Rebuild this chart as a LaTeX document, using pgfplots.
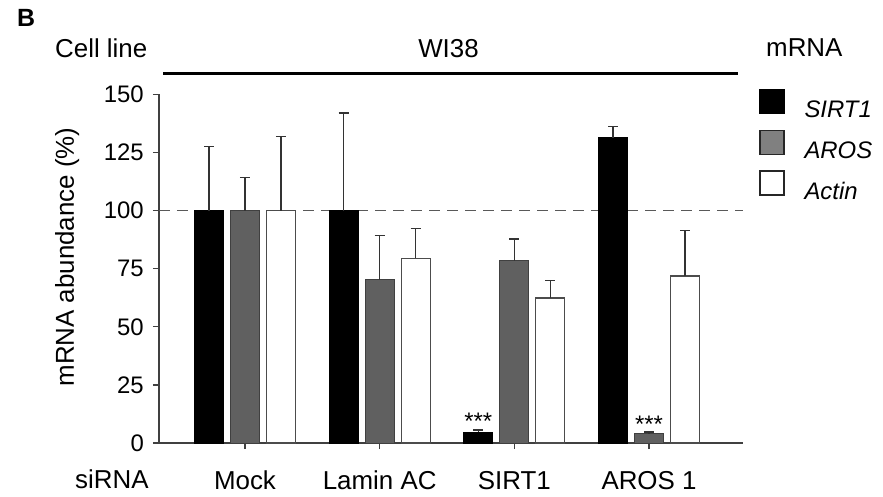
\documentclass[border=0pt]{standalone}
\usepackage{fontspec}
\setmainfont{Liberation Sans}
\usepackage{pgfplots}
\pgfplotsset{compat=1.18}
\definecolor{barg}{HTML}{606060}
\definecolor{legg}{HTML}{808080}
\definecolor{edge}{HTML}{404040}
\newcommand\fa{\fontsize{26}{30}\selectfont}
\newcommand\fb{\fontsize{24}{28}\selectfont}
\newcommand\fB{\fontsize{25}{29}\selectfont\bfseries}

\begin{document}
\begin{tikzpicture}
\path[use as bounding box] (-159bp,-54bp) rectangle (724bp,443bp);
\begin{axis}[
    scale only axis,
    width=584bp, height=348.5bp,
    xmin=-0.6386, xmax=3.698,
    ymin=0, ymax=150,
    clip=false,
    axis x line*=bottom, axis y line*=left,
    axis line style={draw=edge, line width=1.3bp, -},
    xtick={0,1,2,3},
    xticklabels={Mock, Lamin AC, SIRT1, AROS 1},
    ytick={0,25,...,150},
    tick align=outside,
    major tick length=6bp,
    tick style={draw=edge, line width=1.3bp},
    /pgf/number format/assume math mode=true,
    xticklabel style={font=\fa, anchor=base, inner sep=0pt, yshift=-40bp},
    yticklabel style={font=\fb, anchor=east, inner sep=0pt, xshift=-9bp},
    legend image code/.code={\draw[#1] (0bp,-4bp) rectangle (24bp,20bp);},
    legend style={at={(axis description cs:1.0274,1.0158)}, anchor=north west,
        draw=none, fill=none, inner sep=0pt, outer sep=0pt,
        row sep=8bp, column sep=20bp,
        nodes={inner sep=0pt, text height=20bp, text depth=4bp, font=\fb\itshape}},
    legend cell align=left,
    bar width=29bp,
]
% reference line at 100 %
\addplot[forget plot, draw=black!65, line width=1.2bp, dash pattern=on 11bp off 7bp]
    coordinates {(-0.6386,100) (3.698,100)};

% bars: SIRT1, AROS, Actin
\addplot[forget plot, ybar, bar shift=-36bp, fill=black, draw=black, line width=1bp]
    coordinates {(0,100) (1,100) (2,4.6) (3,131.4)};
\addplot[forget plot, ybar, bar shift=0bp, fill=barg, draw=edge, line width=1bp]
    coordinates {(0,100) (1,70.2) (2,78.5) (3,3.9)};
\addplot[forget plot, ybar, bar shift=36bp, fill=white, draw=black!70, line width=1.2bp]
    coordinates {(0,100) (1,79.5) (2,62.4) (3,71.9)};

% error bars (upper only), bar offset 36bp = 0.2673 units
\pgfplotsset{errst/.style={forget plot, draw=none, mark=none,
    error bars/.cd, y dir=plus, y explicit,
    error bar style={line width=1.2bp, draw=black!80},
    error mark options={rotate=90, line width=1.2bp, draw=black!80, mark size=5bp}}}
\addplot[errst] coordinates {
    (-0.2673,100) +- (0,27.5) (0.7327,100) +- (0,42)
    (1.7327,4.6) +- (0,1.0) (2.7327,131.4) +- (0,4.8)};
\addplot[errst] coordinates {
    (0,100) +- (0,14.2) (1,70.2) +- (0,19)
    (2,78.5) +- (0,9.3) (3,3.9) +- (0,0.8)};
\addplot[errst] coordinates {
    (0.2673,100) +- (0,32) (1.2673,79.5) +- (0,12.8)
    (2.2673,62.4) +- (0,7.5) (3.2673,71.9) +- (0,19.7)};

\addlegendimage{fill=black, draw=black, line width=1.5bp}
\addlegendentry{SIRT1}
\addlegendimage{fill=legg, draw=black!85, line width=1.5bp}
\addlegendentry{AROS}
\addlegendimage{fill=white, draw=black!85, line width=1.5bp}
\addlegendentry{Actin}

\node[font=\fb, anchor=base, inner sep=0pt] at (axis cs:1.7327,5.6) {***};
\node[font=\fb, anchor=base, inner sep=0pt] at (axis cs:3,4.4) {***};
\end{axis}

% axis title, header texts and group line
\node[font=\fa, rotate=90, anchor=base, inner sep=0pt] at (-85bp,186bp) {mRNA abundance (\%)};
\node[font=\fB, anchor=base west, inner sep=0pt] at (-142bp,416bp) {B};
\node[font=\fa, anchor=base west, inner sep=0pt] at (-104bp,385bp) {Cell line};
\node[font=\fa, anchor=base, inner sep=0pt] at (289.5bp,385bp) {WI38};
\node[font=\fa, anchor=base west, inner sep=0pt] at (607bp,386bp) {mRNA};
\draw[line width=3.5bp] (4bp,369.5bp) -- (579bp,369.5bp);
\node[font=\fa, anchor=base west, inner sep=0pt] at (-84bp,-45bp) {siRNA};
\end{tikzpicture}
\end{document}
